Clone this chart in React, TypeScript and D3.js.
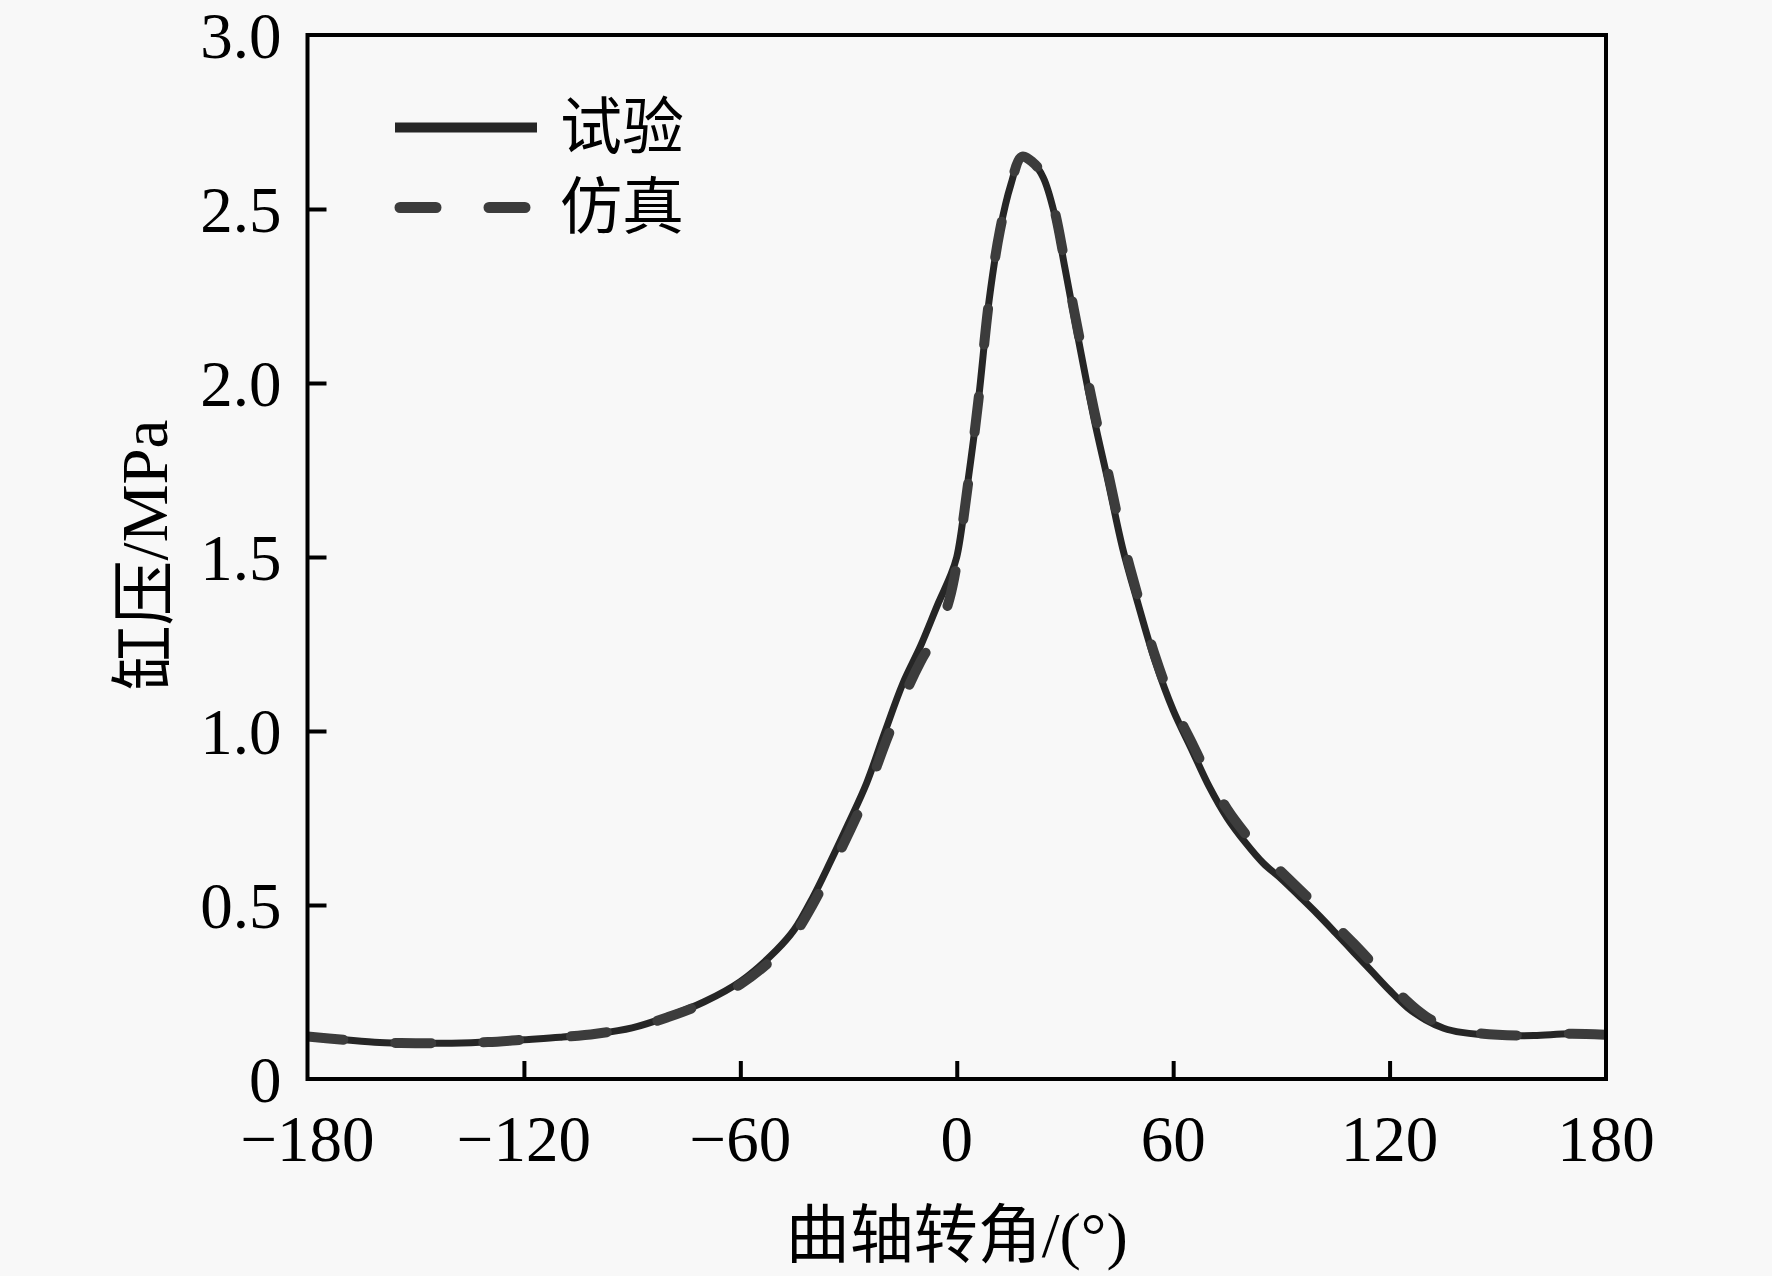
import React, { useRef, useEffect } from 'react';
import * as d3 from 'd3';

// 曲轴转角 (°)
const angles = [
  -180, -170, -160, -150, -140, -130, -120, -110, -100, -90, -80, -70, -60, -50, -45,
  -40, -35, -30, -25, -20, -15, -10, -5, -2, 0, 3, 6, 9, 12, 15, 18, 21, 24, 27, 30,
  34, 38, 42, 46, 50, 55, 60, 65, 70, 75, 80, 85, 90, 95, 100, 105, 110, 115, 120,
  125, 130, 135, 140, 150, 160, 170, 180
];

// 试验 缸压 (MPa)
const testPressure = [
  0.122, 0.113, 0.105, 0.103, 0.103, 0.106, 0.113, 0.12, 0.13, 0.147, 0.18, 0.222, 0.28, 0.37, 0.43,
  0.52, 0.625, 0.735, 0.85, 0.995, 1.135, 1.245, 1.37, 1.44, 1.5, 1.71, 1.95, 2.24, 2.44, 2.57, 2.65, 2.635, 2.59, 2.49, 2.33,
  2.11, 1.9, 1.715, 1.525, 1.375, 1.2, 1.06, 0.95, 0.84, 0.75, 0.68, 0.62, 0.575, 0.525, 0.474, 0.42, 0.365, 0.31, 0.255,
  0.205, 0.17, 0.146, 0.134, 0.125, 0.125, 0.13, 0.127
];

// 仿真 缸压 (MPa)
const simPressure = [
  0.122, 0.113, 0.105, 0.103, 0.103, 0.106, 0.113, 0.12, 0.13, 0.147, 0.178, 0.218, 0.272, 0.355, 0.415,
  0.5, 0.6, 0.705, 0.82, 0.96, 1.09, 1.2, 1.29, 1.38, 1.48, 1.7, 1.95, 2.24, 2.44, 2.57, 2.65, 2.635, 2.595, 2.5, 2.345,
  2.13, 1.925, 1.74, 1.55, 1.395, 1.215, 1.075, 0.97, 0.865, 0.775, 0.705, 0.645, 0.595, 0.545, 0.495, 0.442, 0.39, 0.335, 0.278,
  0.222, 0.18, 0.152, 0.138, 0.127, 0.125, 0.13, 0.127
];

const xTicks = [-180, -120, -60, 0, 60, 120, 180];
const yTicks = [0, 0.5, 1.0, 1.5, 2.0, 2.5, 3.0];
const legendLabels = ['试验', '仿真'];

const W = 1772;
const H = 1276;

export default function App() {
  const svgRef = useRef<SVGSVGElement>(null);

  useEffect(() => {
    if (!svgRef.current) return;
    const svg = d3.select(svgRef.current);
    svg.selectAll('*').remove();

    const left = 307.5, right = 1606, top = 35, bottom = 1079;
    const latin = "'Liberation Serif', 'Times New Roman', serif";
    const cjk = "'Liberation Serif', 'Noto Sans CJK SC', serif";

    const x = d3.scaleLinear().domain([-180, 180]).range([left, right]);
    const y = d3.scaleLinear().domain([0, 3]).range([bottom, top]);

    svg.append('rect').attr('width', W).attr('height', H).attr('fill', '#f8f8f8');

    svg.append('clipPath').attr('id', 'plot-clip')
      .append('rect')
      .attr('x', left).attr('y', top)
      .attr('width', right - left).attr('height', bottom - top);

    const line = d3.line<number>()
      .x((_, i) => x(angles[i]))
      .y(d => y(d))
      .curve(d3.curveCatmullRom.alpha(0.5));

    const plot = svg.append('g').attr('clip-path', 'url(#plot-clip)');

    plot.append('path')
      .attr('d', line(testPressure))
      .attr('fill', 'none')
      .attr('stroke', '#262626')
      .attr('stroke-width', 7);

    plot.append('path')
      .attr('d', line(simPressure))
      .attr('fill', 'none')
      .attr('stroke', '#3c3c3c')
      .attr('stroke-width', 10)
      .attr('stroke-linecap', 'round')
      .attr('stroke-dasharray', '36 52');

    // 坐标框
    svg.append('rect')
      .attr('x', left).attr('y', top)
      .attr('width', right - left).attr('height', bottom - top)
      .attr('fill', 'none')
      .attr('stroke', '#000')
      .attr('stroke-width', 4);

    // 刻度 (向内)
    const xAxis = d3.axisBottom(x)
      .tickValues(xTicks.slice(1, -1))
      .tickSize(-18)
      .tickFormat(() => '');
    const gx = svg.append('g').attr('transform', `translate(0,${bottom})`).call(xAxis);
    gx.select('.domain').remove();
    gx.selectAll('line').attr('stroke', '#000').attr('stroke-width', 4);

    const yAxis = d3.axisLeft(y)
      .tickValues(yTicks.slice(1, -1))
      .tickSize(-19)
      .tickFormat(() => '');
    const gy = svg.append('g').attr('transform', `translate(${left},0)`).call(yAxis);
    gy.select('.domain').remove();
    gy.selectAll('line').attr('stroke', '#000').attr('stroke-width', 4);

    // 刻度标签
    svg.append('g').selectAll('text')
      .data(xTicks)
      .enter()
      .append('text')
      .attr('x', d => x(d))
      .attr('y', bottom + 82)
      .attr('text-anchor', 'middle')
      .style('font-family', latin)
      .style('font-size', '65px')
      .attr('fill', '#000')
      .text(d => (d < 0 ? `\u2212${-d}` : `${d}`));

    svg.append('g').selectAll('text')
      .data(yTicks)
      .enter()
      .append('text')
      .attr('x', left - 26)
      .attr('y', d => y(d))
      .attr('dy', '0.35em')
      .attr('text-anchor', 'end')
      .style('font-family', latin)
      .style('font-size', '65px')
      .attr('fill', '#000')
      .text(d => (d === 0 ? '0' : d.toFixed(1)));

    // 轴标题
    svg.append('text')
      .attr('x', (left + right) / 2)
      .attr('y', 1257)
      .attr('text-anchor', 'middle')
      .style('font-family', cjk)
      .style('font-size', '64px')
      .attr('fill', '#000')
      .text('曲轴转角/(°)');

    svg.append('text')
      .attr('transform', 'translate(167,555) rotate(-90)')
      .attr('text-anchor', 'middle')
      .style('font-family', cjk)
      .style('font-size', '65px')
      .attr('fill', '#000')
      .text('缸压/MPa');

    // 图例
    const legendY = [127.5, 207.5];
    svg.append('line')
      .attr('x1', 395).attr('x2', 537)
      .attr('y1', legendY[0]).attr('y2', legendY[0])
      .attr('stroke', '#262626').attr('stroke-width', 10);
    svg.append('line')
      .attr('x1', 400).attr('x2', 535)
      .attr('y1', legendY[1]).attr('y2', legendY[1])
      .attr('stroke', '#3c3c3c').attr('stroke-width', 11)
      .attr('stroke-linecap', 'round')
      .attr('stroke-dasharray', '36 53');

    svg.append('g').selectAll('text')
      .data(legendLabels)
      .enter()
      .append('text')
      .attr('x', 560)
      .attr('y', (_, i) => legendY[i])
      .attr('dominant-baseline', 'central')
      .style('font-family', cjk)
      .style('font-size', '62px')
      .attr('fill', '#000')
      .text(d => d);
  }, []);

  return (
    <svg
      ref={svgRef}
      width={W}
      height={H}
      style={{ position: 'absolute', left: 0, top: 0, display: 'block' }}
    />
  );
}
